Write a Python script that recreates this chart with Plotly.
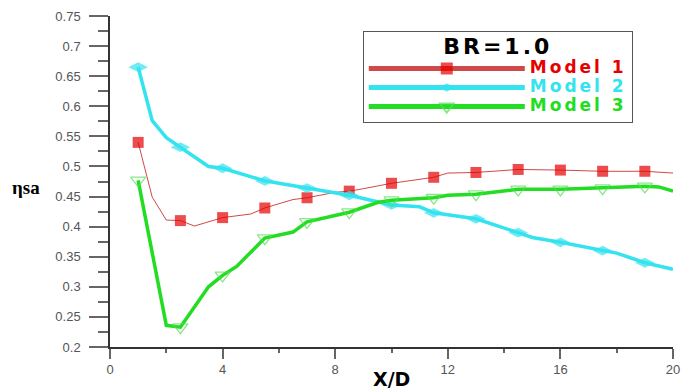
import plotly.graph_objects as go

# Spanwise-averaged film cooling effectiveness vs. X/D at BR = 1.0
model1_x = [1, 1.5, 2, 2.5, 3, 4, 5, 5.5, 6.5, 7, 8, 8.5, 9, 10, 11.5, 12, 13, 14.5, 16, 17.5, 19, 20]
model1_y = [0.540, 0.449, 0.411, 0.410, 0.401, 0.415, 0.421, 0.431, 0.445, 0.448, 0.457, 0.459,
            0.463, 0.472, 0.482, 0.489, 0.490, 0.495, 0.494, 0.492, 0.492, 0.489]

model2_x = [1, 1.5, 2, 2.5, 3.5, 4, 5.5, 6, 7, 8.5, 10, 11, 11.5, 13, 14.5, 15, 16, 17.5, 18, 19, 20]
model2_y = [0.665, 0.576, 0.548, 0.532, 0.500, 0.497, 0.476, 0.472, 0.464, 0.452, 0.436, 0.433,
            0.423, 0.413, 0.390, 0.382, 0.374, 0.360, 0.356, 0.340, 0.329]

model3_x = [1, 2, 2.5, 3.5, 4, 4.5, 5.5, 6.5, 7, 8.5, 9.5, 10, 11.5, 12, 13, 14.5, 16, 17.5, 19, 19.5, 20]
model3_y = [0.477, 0.236, 0.233, 0.300, 0.319, 0.334, 0.381, 0.391, 0.408, 0.424, 0.440, 0.444,
            0.448, 0.452, 0.454, 0.462, 0.462, 0.464, 0.467, 0.466, 0.459]

# stations where a symbol is drawn on each curve
symbol_x = [1, 2.5, 4, 5.5, 7, 8.5, 10, 11.5, 13, 14.5, 16, 17.5, 19]

legend_title = "BR=1.0"
names = ["Model 1", "Model 2", "Model 3"]
x_title = "X/D"
y_title = "\u03b7sa"


def sizes(xs, s):
    return [s if x in symbol_x else 0 for x in xs]


def label(text, color):
    return (f"<span style='color:{color};font-size:17px;letter-spacing:3px'>"
            f"{text}</span>")


RED, CYAN, GREEN = "#e60000", "#33e3ef", "#22dd22"

fig = go.Figure()
fig.add_trace(go.Scatter(
    x=model1_x, y=model1_y, mode="lines+markers",
    name=label(names[0], RED),
    line=dict(color="#d04848", width=1),
    marker=dict(symbol="square", size=sizes(model1_x, 11), color=RED,
                line=dict(width=0)),
))
fig.add_trace(go.Scatter(
    x=model2_x, y=model2_y, mode="lines+markers",
    name=label(names[1], CYAN),
    line=dict(color=CYAN, width=3.5),
    marker=dict(symbol="diamond-wide", size=sizes(model2_x, 14), color=CYAN,
                line=dict(width=0)),
))
fig.add_trace(go.Scatter(
    x=model3_x, y=model3_y, mode="lines+markers",
    name=label(names[2], GREEN),
    line=dict(color=GREEN, width=3.5),
    marker=dict(symbol="triangle-down-open", size=sizes(model3_x, 13), color="#55dd55",
                line=dict(width=1.3, color="#55dd55")),
))

axis_line = "#333333"
tick_col = "#666666"
tick_font = dict(family="Liberation Sans, Arial, sans-serif", size=13, color="#555555")

fig.update_layout(
    width=689, height=389,
    margin=dict(l=110, r=9, t=14, b=42),
    paper_bgcolor="white", plot_bgcolor="white",
    showlegend=True,
    xaxis=dict(
        range=[0, 20], dtick=4, tick0=0, showgrid=False, zeroline=False,
        showline=True, linecolor=axis_line, linewidth=1.5,
        ticks="outside", ticklen=10, tickwidth=1.5, tickcolor=tick_col,
        minor=dict(dtick=2, ticks="outside", ticklen=4, tickwidth=1.5, tickcolor=tick_col),
        tickfont=tick_font,
    ),
    yaxis=dict(
        range=[0.2, 0.75], dtick=0.05, tick0=0.2, showgrid=False, zeroline=False,
        showline=True, linecolor=axis_line, linewidth=1.5,
        ticks="outside", ticklen=19, tickwidth=1.5, tickcolor=tick_col,
        minor=dict(dtick=0.025, ticks="outside", ticklen=10, tickwidth=1.5, tickcolor=tick_col),
        tickfont=tick_font, ticklabelstandoff=6,
    ),
    xaxis2=dict(
        range=[0, 20], dtick=4, tick0=0, overlaying="x", side="top", anchor="y",
        showgrid=False, zeroline=False, showticklabels=False,
        showline=True, linecolor=axis_line, linewidth=1.5,
        ticks="inside", ticklen=10, tickwidth=1.5, tickcolor=tick_col,
        minor=dict(dtick=2, ticks="inside", ticklen=4, tickwidth=1.5, tickcolor=tick_col),
    ),
    yaxis2=dict(
        range=[0.2, 0.75], dtick=0.05, tick0=0.2, overlaying="y", side="right", anchor="x",
        showgrid=False, zeroline=False, showticklabels=False,
        showline=True, linecolor=axis_line, linewidth=1.5,
        ticks="inside", ticklen=19, tickwidth=1.5, tickcolor=tick_col,
        minor=dict(dtick=0.025, ticks="inside", ticklen=9, tickwidth=1.5, tickcolor=tick_col),
    ),
    legend=dict(
        x=0.449, y=0.955, xanchor="left", yanchor="top",
        bgcolor="white", bordercolor="#555555", borderwidth=1,
        itemsizing="constant", itemwidth=156, tracegroupgap=0,
        font=dict(family="DejaVu Sans, Arial, sans-serif", size=12, weight="bold"),
        title=dict(text=(f"<b><span style='font-size:22px;letter-spacing:3px'>"
                         f"{legend_title}</span></b>"),
                   side="top center",
                   font=dict(family="DejaVu Sans, Arial, sans-serif", size=17, color="black")),
    ),
    annotations=[
        dict(text=f"<b>{x_title}</b>", xref="paper", yref="paper", x=0.5, y=0,
             xanchor="center", yanchor="top", yshift=-19, showarrow=False,
             font=dict(family="DejaVu Sans, Arial, sans-serif", size=19, color="black")),
        dict(text=f"<b>{y_title}</b>", xref="paper", yref="paper", x=0, y=0.483,
             xanchor="right", yanchor="middle", xshift=-68, showarrow=False,
             font=dict(family="Liberation Serif, Times New Roman, serif", size=19, color="black")),
    ],
)

fig.write_html("out.html")
